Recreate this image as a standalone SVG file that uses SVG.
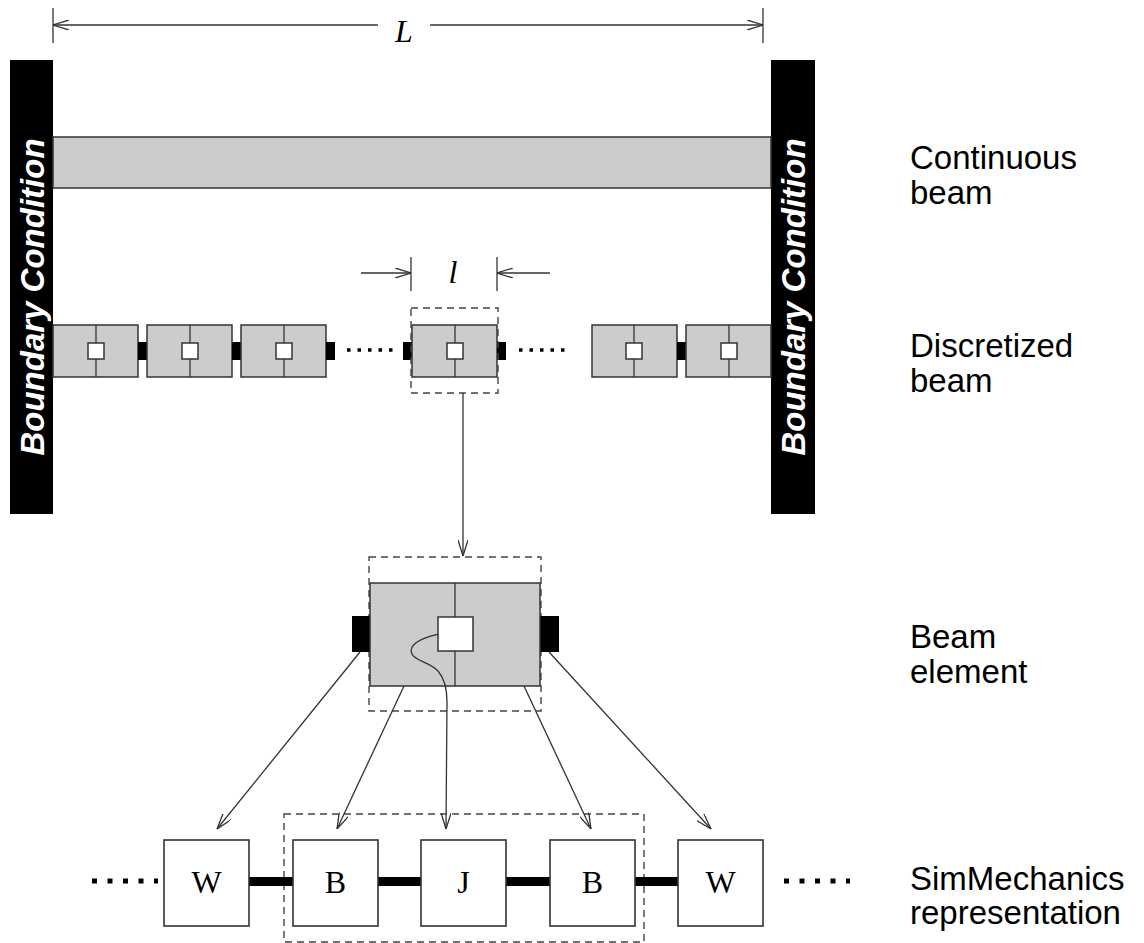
<svg xmlns="http://www.w3.org/2000/svg" width="1144" height="943" viewBox="0 0 1144 943">
<style>
.ln{stroke:#333;stroke-width:1.3;fill:none}
.dash{stroke:#444;stroke-width:1.4;fill:none;stroke-dasharray:7 5}
.gray{fill:#cccccc;stroke:#333;stroke-width:1.5}
.blk{fill:#000}
.wsq{fill:#fff;stroke:#333;stroke-width:1.5}
.lab{font-family:"Liberation Sans",Arial,sans-serif;font-size:33px;fill:#000}
.bc{font-family:"Liberation Sans",Arial,sans-serif;font-size:33px;font-weight:bold;font-style:italic;fill:#fff}
.ser{font-family:"Liberation Serif","Times New Roman",serif;font-size:32px;fill:#000}
.dots{stroke:#000;stroke-width:3.5;stroke-dasharray:3.5 7}
.dotsb{stroke:#000;stroke-width:5;stroke-dasharray:5 10.5}
.box{fill:#fff;stroke:#333;stroke-width:1.6}
</style>
<defs>
<marker id="arr" viewBox="0 0 16 10" refX="16" refY="5" markerWidth="16" markerHeight="10" orient="auto" markerUnits="userSpaceOnUse">
<path d="M0,0 L16,5 L0,10" fill="none" stroke="#333" stroke-width="1.3"/>
</marker>
</defs>
<rect width="1144" height="943" fill="#fff"/>

<g id="dimension-L">
<line class="ln" x1="53" y1="8" x2="53" y2="43"/>
<line class="ln" x1="763" y1="8" x2="763" y2="43"/>
<line class="ln" x1="378" y1="25" x2="53" y2="25" marker-end="url(#arr)"/>
<line class="ln" x1="430" y1="25" x2="763" y2="25" marker-end="url(#arr)"/>
<text class="ser" x="404" y="42" text-anchor="middle" font-style="italic">L</text>
</g>

<g id="boundary-left">
<rect x="10" y="60" width="43" height="454" class="blk"/>
<text class="bc" transform="translate(44,297) rotate(-90)" text-anchor="middle">Boundary Condition</text>
</g>
<g id="boundary-right">
<rect x="771" y="60" width="44" height="454" class="blk"/>
<text class="bc" transform="translate(805,297) rotate(-90)" text-anchor="middle">Boundary Condition</text>
</g>

<g id="continuous-beam">
<rect x="53" y="137" width="718" height="51" class="gray"/>
</g>

<g id="discretized-beam">
<rect x="53" y="325" width="85" height="52" class="gray"/><line class="ln" x1="96" y1="325" x2="96" y2="377"/><rect x="88" y="343" width="16" height="16" class="wsq"/>
<rect x="138" y="342" width="9" height="18" class="blk"/>
<rect x="147" y="325" width="85" height="52" class="gray"/><line class="ln" x1="190" y1="325" x2="190" y2="377"/><rect x="182" y="343" width="16" height="16" class="wsq"/>
<rect x="232" y="342" width="9" height="18" class="blk"/>
<rect x="241" y="325" width="85" height="52" class="gray"/><line class="ln" x1="284" y1="325" x2="284" y2="377"/><rect x="276" y="343" width="16" height="16" class="wsq"/>
<rect x="326" y="342" width="9" height="18" class="blk"/>
<line class="dots" x1="347" y1="350" x2="394" y2="350"/>
<rect x="403" y="342" width="9" height="18" class="blk"/>
<rect x="412" y="325" width="85" height="52" class="gray"/><line class="ln" x1="455" y1="325" x2="455" y2="377"/><rect x="447" y="343" width="16" height="16" class="wsq"/>
<rect x="497" y="342" width="9" height="18" class="blk"/>
<line class="dots" x1="519" y1="350" x2="566" y2="350"/>
<rect x="592" y="325" width="85" height="52" class="gray"/><line class="ln" x1="634" y1="325" x2="634" y2="377"/><rect x="626" y="343" width="16" height="16" class="wsq"/>
<rect x="677" y="342" width="9" height="18" class="blk"/>
<rect x="686" y="325" width="85" height="52" class="gray"/><line class="ln" x1="729" y1="325" x2="729" y2="377"/><rect x="721" y="343" width="16" height="16" class="wsq"/>
<rect x="411" y="308" width="87" height="85" class="dash" stroke-dasharray="6 4"/>
</g>

<g id="dimension-l">
<line class="ln" x1="411" y1="257" x2="411" y2="291"/>
<line class="ln" x1="497" y1="257" x2="497" y2="291"/>
<line class="ln" x1="361" y1="273" x2="411" y2="273" marker-end="url(#arr)"/>
<line class="ln" x1="550" y1="273" x2="497" y2="273" marker-end="url(#arr)"/>
<text class="ser" x="453" y="283" text-anchor="middle" font-style="italic">l</text>
</g>

<g id="beam-element">
<rect x="369" y="557" width="172" height="154" class="dash" stroke-dasharray="8 5"/>
<rect x="352" y="616" width="18" height="36" class="blk"/>
<rect x="540" y="616" width="19" height="36" class="blk"/>
<rect x="370" y="583" width="170" height="103" class="gray"/>
<line class="ln" x1="455" y1="583" x2="455" y2="686" stroke-width="1.5"/>
<rect x="438" y="617" width="35" height="34" class="wsq"/>
</g>

<g id="sim-row">
<rect x="284" y="814" width="360" height="128" class="dash" stroke-dasharray="8 5"/>
<line class="dotsb" x1="92" y1="881" x2="158" y2="881"/>
<rect x="249" y="877" width="44" height="9" class="blk"/>
<rect x="378" y="877" width="43" height="9" class="blk"/>
<rect x="506" y="877" width="44" height="9" class="blk"/>
<rect x="635" y="877" width="43" height="9" class="blk"/>
<line class="dotsb" x1="784" y1="881" x2="850" y2="881"/>
<g id="node-W1"><rect x="164" y="840" width="85" height="86" class="box"/><text class="ser" x="206.5" y="893" text-anchor="middle">W</text></g>
<g id="node-B1"><rect x="293" y="840" width="85" height="86" class="box"/><text class="ser" x="335.5" y="893" text-anchor="middle">B</text></g>
<g id="node-J"><rect x="421" y="840" width="85" height="86" class="box"/><text class="ser" x="463.5" y="893" text-anchor="middle">J</text></g>
<g id="node-B2"><rect x="550" y="840" width="85" height="86" class="box"/><text class="ser" x="592.5" y="893" text-anchor="middle">B</text></g>
<g id="node-W2"><rect x="678" y="840" width="85" height="86" class="box"/><text class="ser" x="720.5" y="893" text-anchor="middle">W</text></g>
</g>

<g id="connectors">
<line class="ln" x1="463" y1="393" x2="463" y2="556" marker-end="url(#arr)"/>
<line class="ln" x1="360" y1="652" x2="217" y2="829" marker-end="url(#arr)"/>
<line class="ln" x1="404" y1="686" x2="337" y2="829" marker-end="url(#arr)"/>
<path class="ln" d="M438,634.3 C420,638 408,645 412,654 C415,661 430,662 438,671 C446,680 447,692 447,702 L446,829" marker-end="url(#arr)"/>
<line class="ln" x1="524" y1="686" x2="591" y2="829" marker-end="url(#arr)"/>
<line class="ln" x1="549" y1="652" x2="711" y2="829" marker-end="url(#arr)"/>
</g>

<g id="labels">
<text class="lab" x="910" y="169">Continuous</text>
<text class="lab" x="910" y="204">beam</text>
<text class="lab" x="910" y="357">Discretized</text>
<text class="lab" x="910" y="392">beam</text>
<text class="lab" x="910" y="648">Beam</text>
<text class="lab" x="910" y="683">element</text>
<text class="lab" x="910" y="890">SimMechanics</text>
<text class="lab" x="910" y="924">representation</text>
</g>
</svg>
